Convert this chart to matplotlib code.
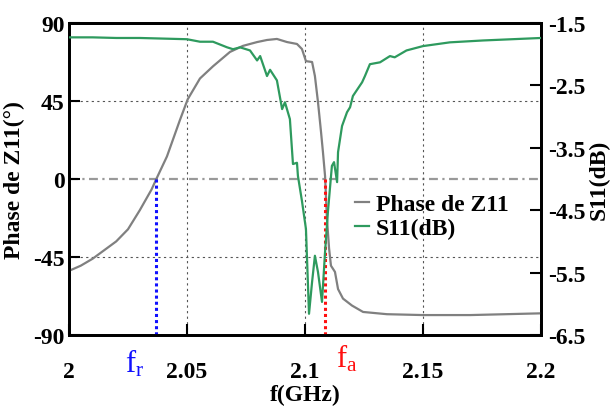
import matplotlib
matplotlib.use("Agg")
import matplotlib.pyplot as plt

plt.rcParams['font.family'] = ['Liberation Serif', 'DejaVu Serif']
plt.rcParams['mathtext.fontset'] = 'custom'
plt.rcParams['mathtext.rm'] = 'Liberation Serif'
plt.rcParams['mathtext.it'] = 'Liberation Serif'

# Phase of Z11 (degrees) vs frequency (GHz)
phase_f = [2.000, 2.005, 2.010, 2.015, 2.020, 2.025, 2.030, 2.035, 2.037, 2.0415,
           2.047, 2.0503, 2.0555, 2.061, 2.0682, 2.0737, 2.0797, 2.0839, 2.0881,
           2.0924, 2.0966, 2.0987, 2.1004, 2.1030, 2.1042, 2.1055, 2.1068, 2.1076,
           2.1085, 2.1093, 2.1102, 2.1110, 2.1127, 2.1140, 2.1161, 2.1199,
           2.1246, 2.1347, 2.150, 2.170, 2.200]
phase_v = [-53, -50, -46, -41, -36, -29, -18, -6, 0, 13,
           34, 46, 58, 65, 73.3, 76.8, 79, 80.2, 80.8,
           79, 77.9, 75, 68, 67.5, 59.4, 44.4, 27, 15.6,
           1.7, -23, -40, -50, -53.6, -63.5, -69, -73,
           -76.7, -78, -78.5, -78.5, -77.5]

# S11 (dB) vs frequency (GHz)
s11_f = [2.000, 2.010, 2.020, 2.030, 2.040, 2.050, 2.0555, 2.061, 2.067, 2.0695,
         2.0725, 2.0767, 2.0797, 2.0810, 2.0839, 2.0852, 2.0881, 2.0903, 2.0915,
         2.0936, 2.0949, 2.0966, 2.0970, 2.0987, 2.1004, 2.1017, 2.1030, 2.1042,
         2.1055, 2.1072, 2.1085, 2.1097, 2.1114, 2.1123, 2.1136, 2.1140, 2.1157,
         2.1178, 2.1191, 2.1203, 2.1242, 2.1254, 2.1275, 2.1318, 2.1360, 2.1380,
         2.1430, 2.1500, 2.1614, 2.1754, 2.2000]
s11_v = [-1.73, -1.73, -1.74, -1.74, -1.75, -1.76, -1.80, -1.80, -1.89, -1.92,
         -1.89, -1.94, -2.10, -2.03, -2.35, -2.25, -2.42, -2.88, -2.77,
         -3.04, -3.76, -3.74, -3.95, -4.35, -4.80, -6.16, -5.65, -5.23,
         -5.49, -5.97, -5.17, -4.53, -3.79, -3.73, -4.05, -3.57, -3.15,
         -2.93, -2.85, -2.67, -2.45, -2.35, -2.16, -2.13, -2.03, -2.05,
         -1.94, -1.87, -1.81, -1.78, -1.74]

x_ticks = [2.0, 2.05, 2.1, 2.15, 2.2]
x_labels = ['2', '2.05', '2.1', '2.15', '2.2']
phase_ticks = [90, 45, 0, -45, -90]
s11_ticks = [-1.5, -2.5, -3.5, -4.5, -5.5, -6.5]
f_r = 2.037
f_a = 2.1085

fig = plt.figure(figsize=(6.12, 4.10), dpi=100)
ax = fig.add_axes([69/612, 74/410, 472/612, 312/410])
ax2 = ax.twinx()

FS = 17
ax.set_xlim(2.0, 2.2)
ax.set_ylim(-90, 90)
ax2.set_ylim(-6.5, -1.5)

# grid
for yv in [45, -45]:
    ax.axhline(yv, color='#555555', ls=(0, (2, 3)), lw=0.8, zorder=1)
ax.axhline(0, color='#999999', ls=(0, (4, 2, 1, 2)), lw=1.6, zorder=1)
for xv in [2.05, 2.1, 2.15]:
    ax.axvline(xv, color='#555555', ls=(0, (2, 3)), lw=0.8, zorder=1)

l1, = ax.plot(phase_f, phase_v, color='#808080', lw=1.6, zorder=3, label='Phase de Z11')
ax.plot([f_r, f_r], [0, -90], color='#1010ff', ls=(0, (1, 1)), lw=2.2, zorder=4)
ax.plot([f_a, f_a], [0, -90], color='#ff1010', ls=(0, (1, 1)), lw=2.2, zorder=4)
l2, = ax2.plot(s11_f, s11_v, color='#2e9a5e', lw=1.6, zorder=3, label='S11(dB)')

ax.set_xticks(x_ticks)
ax.set_xticklabels(x_labels, fontsize=FS, fontweight='bold')
ax.set_yticks(phase_ticks)
ax.set_yticklabels([str(t) for t in phase_ticks], fontsize=FS, fontweight='bold')
ax2.set_yticks(s11_ticks)
ax2.set_yticklabels([str(t) for t in s11_ticks], fontsize=FS, fontweight='bold')

ax.tick_params(axis='y', direction='in', length=8, width=1.5, pad=3)
ax.tick_params(axis='x', direction='in', length=8, width=1.5, pad=19, top=False)
ax2.tick_params(axis='y', direction='in', length=8, width=1.5, pad=5)
for a in (ax, ax2):
    for s in a.spines.values():
        s.set_linewidth(2)

ax.set_xlabel('f(GHz)', fontsize=FS, fontweight='bold', labelpad=1)
ax.set_ylabel('Phase de Z11(°)', fontsize=FS, fontweight='bold', labelpad=6)
ax2.set_ylabel('S11(dB)', fontsize=FS, fontweight='bold', labelpad=2)

ax.text(f_r - 0.0093, -97, r'$\mathregular{f_r}$', color='#1010ff', fontsize=22,
        ha='center', va='top', transform=ax.transData, clip_on=False)
ax.text(f_a + 0.0093, -94, r'$\mathregular{f_a}$', color='#ff1010', fontsize=22,
        ha='center', va='top', transform=ax.transData, clip_on=False)

leg = ax.legend(handles=[l1, l2], loc='center left', bbox_to_anchor=(0.56, 0.38),
                frameon=False, handlelength=0.6, handletextpad=0.3,
                labelspacing=0.1, prop={'weight': 'bold', 'size': FS})

fig.savefig('out.png', dpi=100)
